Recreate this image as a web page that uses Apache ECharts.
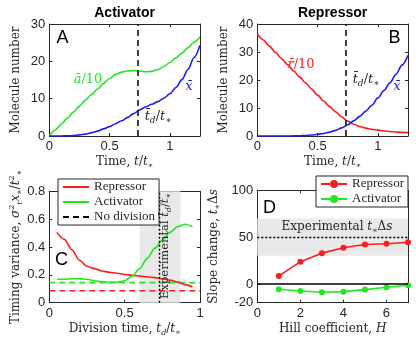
<!DOCTYPE html>
<html>
<head>
<meta charset="utf-8">
<script src="https://cdn.jsdelivr.net/npm/echarts@6.0.0/dist/echarts.min.js"></script>
<style>
html, body { margin: 0; padding: 0; background: #fff; }
#chart { width: 416px; height: 345px; }
</style>
</head>
<body>
<div id="chart"></div>
<script>
// ---- data ----
var timeGrid = [0, 0.05, 0.1, 0.15, 0.2, 0.25, 0.3, 0.35, 0.4, 0.45, 0.5, 0.55, 0.6,
    0.65, 0.7, 0.75, 0.8, 0.85, 0.9, 0.95, 1.0, 1.05, 1.1, 1.15, 1.2, 1.25];
// panel A (activator)
var actA = [0, 1.6, 3.2, 4.8, 6.4, 8.0, 9.6, 11.1, 12.6, 14.1, 15.4, 16.5, 17.1,
    17.4, 17.5, 17.4, 17.2, 17.3, 17.8, 18.6, 19.7, 20.9, 22.2, 23.6, 25.1, 26.5];
var xA = [0, 0, 0, 0.05, 0.1, 0.3, 0.5, 0.9, 1.3, 1.9, 2.5, 3.3, 4.1,
    5.0, 6.0, 7.0, 7.8, 8.5, 9.2, 10.1, 11.3, 13.0, 15.1, 17.8, 21.0, 24.3];
// panel B (repressor)
var repB = [36.5, 34.3, 32.1, 29.9, 27.7, 25.5, 23.3, 21.1, 19.0, 16.8, 14.6, 12.5, 10.5,
    8.6, 6.8, 5.3, 4.2, 3.4, 2.8, 2.4, 2.1, 1.8, 1.6, 1.45, 1.3, 1.2];
var xB = [0, 0, 0, 0, 0, 0, 0.05, 0.1, 0.2, 0.35, 0.6, 0.9, 1.4,
    2.0, 2.9, 4.0, 5.4, 7.0, 8.9, 11.0, 13.6, 16.2, 19.0, 22.0, 25.3, 28.8];
var meanDivTime = 0.735;
// panel C
var divTimes = [0.05, 0.1, 0.15, 0.2, 0.25, 0.3, 0.35, 0.4, 0.45, 0.5, 0.55, 0.6,
    0.65, 0.7, 0.75, 0.8, 0.85, 0.9, 0.95];
var varRep = [0.505, 0.455, 0.38, 0.305, 0.262, 0.245, 0.228, 0.218, 0.212, 0.203, 0.197, 0.191,
    0.186, 0.18, 0.172, 0.162, 0.148, 0.13, 0.113];
var varAct = [0.168, 0.168, 0.172, 0.173, 0.168, 0.158, 0.15, 0.147, 0.147, 0.158, 0.19, 0.245,
    0.32, 0.39, 0.45, 0.505, 0.545, 0.563, 0.545];
var noDivRep = 0.086;
var noDivAct = 0.144;
var expDivBand = [0.6, 0.87];
// panel D
var hill = [1, 2, 3, 4, 5, 6, 7];
var slopeRep = [8.6, 23.6, 32.9, 38.6, 42.2, 42.9, 44.6];
var slopeAct = [-5.7, -7.5, -8.9, -8.2, -6.0, -3.5, -1.4];
var expSlope = 50;
var expSlopeBand = [30, 70];
// ticks
var timeTicks = [0, 0.5, 1];
var molTicksA = [0, 10, 20, 30];
var molTicksB = [0, 10, 20, 30, 40];
var divTicks = [0, 0.5, 1];
var varTicks = [0, 0.2, 0.4, 0.6, 0.8];
var hillTicks = [0, 2, 4, 6];
var slopeTicks = [-20, 0, 50, 100];

var RED = '#ff1c1c', GREEN = '#22e822', BLUE = '#1c1cff', INK = '#262626';
var serif = 'DejaVu Serif';

function pairs(xs, ys) {
    return xs.map(function (x, i) { return [x, ys[i]]; });
}

function richSet(color, size) {
    var s = Math.round(size * 0.7);
    function st(extra) {
        var o = {fill: color, color: color, fontFamily: serif, fontSize: size, lineHeight: size + 4};
        for (var k in extra) o[k] = extra[k];
        return o;
    }
    return {
        n: st({}),
        i: st({fontStyle: 'italic'}),
        s: st({fontStyle: 'italic', fontSize: s, lineHeight: s + 1, verticalAlign: 'bottom'}),
        p: st({fontSize: s, lineHeight: s + 1, verticalAlign: 'top'})
    };
}

function xAxisFor(grid, min, max, ticks, name, top) {
    return {
        type: 'value', gridIndex: grid, min: min, max: max,
        position: top ? 'top' : 'bottom',
        name: top ? '' : name, nameLocation: 'middle', nameGap: 18, nameMoveOverlap: false,
        nameTextStyle: {rich: richSet(INK, 12)},
        axisLine: {show: true, onZero: false, lineStyle: {color: INK, width: 1}},
        axisTick: {show: true, inside: true, length: 3, customValues: ticks, lineStyle: {color: INK}},
        axisLabel: {show: !top, customValues: ticks, fontFamily: 'Liberation Sans', fontSize: 13, color: INK, margin: 4},
        splitLine: {show: false}
    };
}

function yAxisFor(grid, min, max, ticks, name, gap, right) {
    return {
        type: 'value', gridIndex: grid, min: min, max: max,
        position: right ? 'right' : 'left',
        name: right ? '' : name, nameLocation: 'middle', nameGap: gap, nameRotate: 90, nameMoveOverlap: false,
        nameTextStyle: {rich: richSet(INK, 12)},
        axisLine: {show: true, onZero: false, lineStyle: {color: INK, width: 1}},
        axisTick: {show: true, inside: true, length: 3, customValues: ticks, lineStyle: {color: INK}},
        axisLabel: {show: !right, customValues: ticks, fontFamily: 'Liberation Sans', fontSize: 13, color: INK, margin: 4},
        splitLine: {show: false}
    };
}

function curve(name, xi, yi, data, color, extra) {
    var s = {
        name: name, type: 'line', xAxisIndex: xi, yAxisIndex: yi, data: data,
        symbol: 'none', smooth: 0.3, smoothMonotone: 'x', silent: true,
        lineStyle: {color: color, width: 1.6}, itemStyle: {color: color}
    };
    for (var k in extra) s[k] = extra[k];
    return s;
}

function mathText(x, y, text, color, size, rot) {
    return {
        type: 'text', x: x, y: y, z: 100, rotation: rot || 0, silent: true,
        style: {text: text, rich: richSet(color, size), fill: color, fontFamily: serif, fontSize: size,
            align: 'center', verticalAlign: 'middle'}
    };
}

function plainText(x, y, text, font) {
    return {
        type: 'text', x: x, y: y, z: 100, silent: true,
        style: {text: text, font: font, fill: '#000', align: 'center', verticalAlign: 'middle'}
    };
}

var timeName = '{n|Time, }{i|t}{n|/}{i|t}{s|∗}';
var tdLabel = '{i|t̄}{s|d}{n|/}{i|t}{s|∗}';

function legendAt(left, top, names, showSymbol) {
    var l = {
        data: names, left: left, top: top,
        orient: 'vertical', itemWidth: 26, itemHeight: 10, itemGap: 1, itemTextGap: 3,
        padding: [1, 4, 1, 4],
        backgroundColor: '#fff', borderColor: INK, borderWidth: 1, borderRadius: 0,
        selectedMode: false, z: 50,
        formatter: function (n) { return n.trim(); },
        textStyle: {fontFamily: 'Liberation Serif', fontSize: 13, color: INK, lineHeight: 14}
    };
    if (!showSymbol) l.itemStyle = {opacity: 0};
    return l;
}

var dom = document.getElementById('chart');
var myChart = echarts.init(dom, null, {renderer: 'canvas'});

var option = {
    animation: false,
    backgroundColor: '#fff',
    grid: [
        {left: 49.3, top: 24, width: 150.7, height: 112, outerBoundsMode: 'none'},
        {left: 257.3, top: 24, width: 150.7, height: 112, outerBoundsMode: 'none'},
        {left: 49.3, top: 191.3, width: 150.7, height: 111.4, outerBoundsMode: 'none'},
        {left: 257.3, top: 190.3, width: 150.7, height: 112.4, outerBoundsMode: 'none'}
    ],
    xAxis: [
        xAxisFor(0, 0, 1.25, timeTicks, timeName),
        xAxisFor(1, 0, 1.25, timeTicks, timeName),
        xAxisFor(2, 0, 1, divTicks, '{n|Division time, }{i|t}{s|d}{n|/}{i|t}{s|∗}'),
        xAxisFor(3, 0, 7, hillTicks, '{n|Hill coefficient, }{i|H}'),
        xAxisFor(0, 0, 1.25, timeTicks, '', true),
        xAxisFor(1, 0, 1.25, timeTicks, '', true),
        xAxisFor(2, 0, 1, divTicks, '', true),
        xAxisFor(3, 0, 7, hillTicks, '', true)
    ],
    yAxis: [
        yAxisFor(0, 0, 30, molTicksA, '{n|Molecule number}', 25),
        yAxisFor(1, 0, 40, molTicksB, '{n|Molecule number}', 25),
        yAxisFor(2, 0, 0.8, varTicks, '{n|Timing variance, }{i|σ}{p|2}{s|t}{i|x}{s|∗}{n|/}{i|t}{p|2}{s|∗}', 25),
        yAxisFor(3, -20, 100, slopeTicks, '{n|Slope change, }{i|t}{s|∗}{n|Δ}{i|s}', 35),
        yAxisFor(0, 0, 30, molTicksA, '', 0, true),
        yAxisFor(1, 0, 40, molTicksB, '', 0, true),
        yAxisFor(2, 0, 0.8, varTicks, '', 0, true),
        yAxisFor(3, -20, 100, slopeTicks, '', 0, true)
    ],
    legend: [
        legendAt(58, 179, ['Repressor', 'Activator', 'No division'], false),
        legendAt(316, 176, ['Repressor ', 'Activator '], true)
    ],
    series: [
        // panel A
        curve('a', 0, 0, pairs(timeGrid, actA), GREEN, {
            markLine: {silent: true, symbol: 'none', label: {show: false},
                lineStyle: {color: '#111', type: [6, 4], width: 1.6},
                data: [{xAxis: meanDivTime}]}
        }),
        curve('xA', 0, 0, pairs(timeGrid, xA), BLUE),
        // panel B
        curve('r', 1, 1, pairs(timeGrid, repB), RED, {
            markLine: {silent: true, symbol: 'none', label: {show: false},
                lineStyle: {color: '#111', type: [6, 4], width: 1.6},
                data: [{xAxis: meanDivTime}]}
        }),
        curve('xB', 1, 1, pairs(timeGrid, xB), BLUE),
        // panel C
        {
            name: 'bandC', type: 'line', xAxisIndex: 2, yAxisIndex: 2, data: [], silent: true, z: 1,
            markArea: {silent: true, itemStyle: {color: '#e9e9e9'},
                data: [[{xAxis: expDivBand[0]}, {xAxis: expDivBand[1]}]]},
            markLine: {silent: true, symbol: 'none', label: {show: false},
                lineStyle: {color: '#000', type: [2, 2], width: 1.4},
                data: [{xAxis: meanDivTime}]}
        },
        curve('noDivRep', 2, 2, [[0, noDivRep], [1, noDivRep]], RED,
            {smooth: false, lineStyle: {color: RED, width: 1.6, type: [6, 4]}}),
        curve('noDivAct', 2, 2, [[0, noDivAct], [1, noDivAct]], GREEN,
            {smooth: false, lineStyle: {color: GREEN, width: 1.6, type: [6, 4]}}),
        curve('Repressor', 2, 2, pairs(divTimes, varRep), RED),
        curve('Activator', 2, 2, pairs(divTimes, varAct), GREEN),
        curve('No division', 2, 2, [], '#000', {lineStyle: {color: '#000', width: 1.6, type: [6, 4]}}),
        // panel D
        {
            name: 'bandD', type: 'line', xAxisIndex: 3, yAxisIndex: 3, data: [], silent: true, z: 1,
            markArea: {silent: true, itemStyle: {color: '#e9e9e9'},
                data: [[{yAxis: expSlopeBand[0]}, {yAxis: expSlopeBand[1]}]]},
            markLine: {silent: true, symbol: 'none', label: {show: false},
                data: [
                    {yAxis: expSlope, lineStyle: {color: '#000', type: [2, 2], width: 1.4}},
                    {yAxis: 0, lineStyle: {color: '#000', type: 'solid', width: 1.6}}
                ]}
        },
        {
            name: 'Repressor ', type: 'line', xAxisIndex: 3, yAxisIndex: 3, data: pairs(hill, slopeRep),
            symbol: 'circle', symbolSize: 6, showSymbol: true, silent: true,
            lineStyle: {color: RED, width: 1.6}, itemStyle: {color: RED}
        },
        {
            name: 'Activator ', type: 'line', xAxisIndex: 3, yAxisIndex: 3, data: pairs(hill, slopeAct),
            symbol: 'circle', symbolSize: 6, showSymbol: true, silent: true,
            lineStyle: {color: GREEN, width: 1.6}, itemStyle: {color: GREEN}
        }
    ],
    graphic: [
        plainText(124.6, 13, 'Activator', 'bold 14px "Liberation Sans"'),
        plainText(332.6, 13, 'Repressor', 'bold 14px "Liberation Sans"'),
        plainText(62.5, 38.5, 'A', '18px "Liberation Sans"'),
        plainText(394.5, 38.5, 'B', '18px "Liberation Sans"'),
        plainText(61.5, 260.5, 'C', '18px "Liberation Sans"'),
        plainText(269.5, 208, 'D', '18px "Liberation Sans"'),
        mathText(88, 80, '{i|ā}{n|/10}', GREEN, 13),
        mathText(189, 87, '{i|x̄}', BLUE, 13),
        mathText(158, 117, tdLabel, INK, 13),
        mathText(301, 65, '{i|r̄}{n|/10}', RED, 13),
        mathText(366, 80, tdLabel, INK, 13),
        mathText(397, 87, '{i|x̄}', BLUE, 13),
        mathText(165.5, 246, '{n|Experimental }' + tdLabel, INK, 11.5, Math.PI / 2),
        mathText(337, 227, '{n|Experimental }{i|t}{s|∗}{n|Δ}{i|s}', INK, 12)
    ]
};

if (option && typeof option === 'object') {
    myChart.setOption(option, true);
}
</script>
</body>
</html>
